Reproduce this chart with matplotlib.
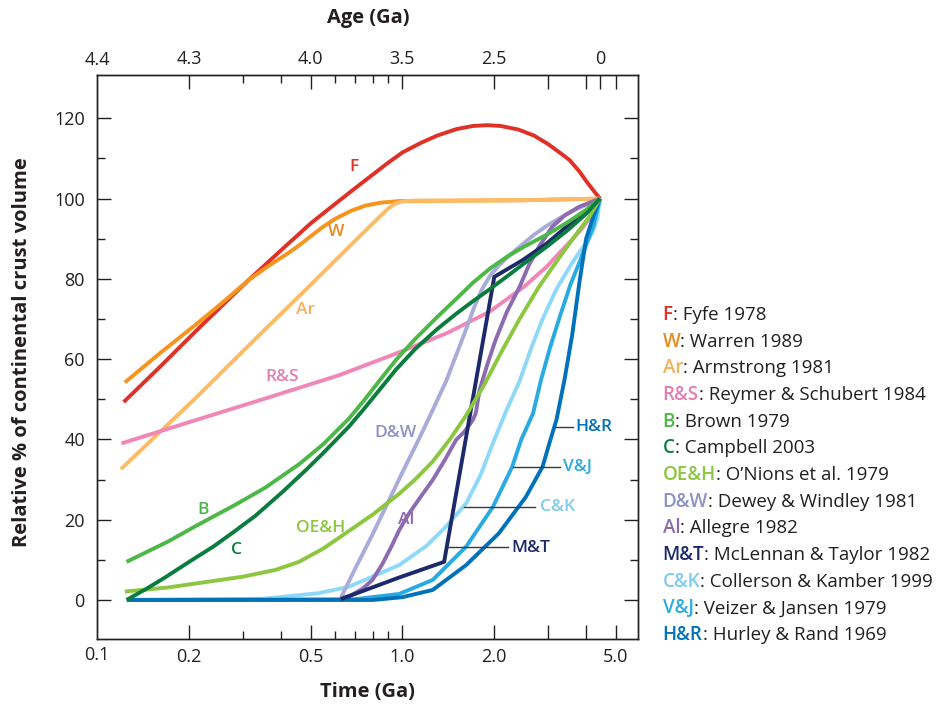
import matplotlib
matplotlib.use('Agg')
import matplotlib.pyplot as plt
from matplotlib.ticker import FixedLocator, FixedFormatter, NullFormatter

plt.rcParams['font.family'] = ['Open Sans', 'DejaVu Sans']

# ---------------- data (time in Ga, relative % of crust volume) ----------------
F_t = [0.122, 0.16, 0.215, 0.313, 0.42, 0.5, 0.6, 0.7, 0.8, 0.9, 1.0, 1.15, 1.3, 1.5, 1.7, 1.9,
       2.1, 2.4, 2.7, 3.0, 3.3, 3.53, 3.8, 4.0, 4.2, 4.44]
F_v = [49.3, 58.0, 67.7, 79.7, 88.6, 93.8, 98.6, 102.6, 106.0, 109.0, 111.5, 113.9, 115.7, 117.3,
       118.1, 118.3, 118.1, 117.2, 115.7, 113.6, 111.3, 109.6, 106.8, 104.4, 102.3, 100]

W_t = [0.1231, 0.16, 0.215, 0.26, 0.313, 0.37, 0.42, 0.4577, 0.5, 0.55, 0.6, 0.68, 0.76, 0.85,
       0.977, 1.5, 2.5, 4.44]
W_v = [54.2, 61.4, 69.2, 74.4, 79.7, 83.6, 86.3, 88.3, 90.6, 93.0, 94.9, 97.0, 98.3, 99.0,
       99.4, 99.5, 99.6, 100]

Ar_t = [0.1195, 0.2093, 0.35, 0.5, 0.7, 0.85, 0.9, 0.95, 1.0, 1.1, 1.5, 2.5, 4.44]
Ar_v = [32.6, 50.2, 67.0, 78.5, 89.5, 95.8, 97.6, 98.8, 99.3, 99.5, 99.5, 99.6, 100]

RS_t = [0.120, 0.2, 0.3555, 0.62, 0.976, 1.4, 1.928, 2.5, 2.966, 3.3, 3.6, 3.9, 4.22, 4.44]
RS_v = [39.0, 44.3, 50.2, 56.0, 61.7, 66.5, 71.8, 78.0, 83.0, 86.8, 89.8, 92.8, 96.3, 100]

B_t = [0.1247, 0.17, 0.2146, 0.28, 0.3555, 0.458, 0.55, 0.668, 0.75, 0.84, 0.95, 1.1, 1.3, 1.5,
       1.7, 1.93, 2.2, 2.5, 2.97, 3.46, 4.0, 4.44]
B_v = [9.5, 14.5, 18.8, 23.5, 28.0, 33.8, 38.8, 45.2, 49.8, 54.6, 59.7, 65.0, 70.5, 75.0,
       79.0, 82.5, 85.5, 88.0, 91.0, 94.0, 97.2, 100]

C_t = [0.1247, 0.145, 0.1667, 0.2, 0.24, 0.276, 0.33, 0.403, 0.48, 0.55, 0.668, 0.75, 0.84,
       0.95, 1.1, 1.3, 1.5, 1.7, 1.93, 2.2, 2.5, 2.97, 3.5, 4.0, 4.44]
C_v = [0.0, 2.8, 5.6, 9.5, 13.3, 16.6, 21.0, 26.8, 32.2, 36.6, 43.2, 47.7, 52.3, 57.3, 62.5,
       67.5, 71.3, 74.4, 77.4, 80.6, 83.8, 88.0, 92.3, 96.2, 100]

OEH_t = [0.1231, 0.17, 0.2146, 0.3, 0.384, 0.458, 0.55, 0.668, 0.8, 0.977, 1.1, 1.257, 1.43,
         1.618, 1.85, 2.1, 2.42, 2.8, 3.28, 3.7, 4.1, 4.44]
OEH_v = [2.1, 3.1, 4.2, 5.8, 7.5, 9.5, 12.8, 17.2, 21.3, 26.5, 30.0, 34.5, 40.0, 46.0, 53.5,
         61.5, 70.0, 78.0, 85.5, 91.0, 95.5, 100]

DW_t = [0.628, 0.7, 0.8, 0.882, 1.0, 1.136, 1.26, 1.39, 1.5, 1.618, 1.72, 1.82, 1.93, 2.05, 2.2,
        2.42, 2.7, 2.97, 3.3, 3.7, 4.1, 4.44]
DW_v = [0.5, 7.8, 16.5, 23.2, 31.8, 40.3, 47.5, 54.5, 61.0, 67.5, 73.0, 77.3, 80.6, 83.0, 85.3,
        88.0, 91.0, 93.2, 95.3, 97.3, 98.8, 100]

Al_t = [0.628, 0.68, 0.74, 0.798, 0.86, 0.92, 0.976, 1.05, 1.15, 1.257, 1.38, 1.5, 1.6, 1.7,
        1.74, 1.79, 1.9, 2.02, 2.2, 2.42, 2.6, 2.8, 3.1, 3.4, 3.8, 4.44]
Al_v = [0.3, 1.2, 2.8, 5.0, 9.0, 13.3, 17.4, 21.5, 25.8, 29.9, 35.0, 39.9, 42.0, 44.8, 46.6,
        52.3, 58.8, 64.8, 71.8, 78.0, 83.5, 88.0, 93.0, 95.8, 98.0, 100]

MT_t = [0.628, 0.976, 1.37, 2.0, 2.48, 2.97, 3.45, 4.22, 4.44]
MT_v = [0.2, 5.6, 9.5, 80.5, 84.7, 88.8, 93.0, 98.4, 100]

CK_t = [0.125, 0.35, 0.532, 0.668, 0.976, 1.2, 1.39, 1.618, 1.8, 2.0, 2.2, 2.42, 2.65, 2.88,
        3.2, 3.6, 3.83, 4.05, 4.22, 4.35, 4.44]
CK_v = [0.0, 0.3, 1.7, 3.3, 8.7, 13.5, 18.3, 24.1, 31.0, 39.9, 47.5, 54.5, 63.0, 70.0, 77.5,
        84.0, 87.0, 89.5, 92.0, 95.0, 100]

VJ_t = [0.125, 0.7, 0.976, 1.257, 1.618, 1.98, 2.29, 2.45, 2.68, 2.85, 3.05, 3.28, 3.55, 3.83,
        4.05, 4.22, 4.44]
VJ_v = [0.0, 0.2, 1.5, 5.0, 13.3, 23.2, 33.2, 39.9, 46.5, 55.0, 63.0, 70.6, 78.5, 84.7, 89.5,
        93.0, 100]

HR_t = [0.125, 0.8, 1.0, 1.257, 1.618, 2.07, 2.54, 2.88, 3.03, 3.2, 3.4, 3.6, 3.8, 4.0, 4.22,
        4.44]
HR_v = [0.0, 0.0, 0.7, 2.5, 8.7, 16.6, 25.7, 33.2, 39.0, 45.0, 55.0, 66.0, 79.0, 90.0, 95.5, 100]

# label text, legend names, colours
keys = ['F', 'W', 'Ar', 'R&S', 'B', 'C', 'OE&H', 'D&W', 'Al', 'M&T', 'C&K', 'V&J', 'H&R']
names = ['Fyfe 1978', 'Warren 1989', 'Armstrong 1981', 'Reymer & Schubert 1984', 'Brown 1979',
         'Campbell 2003', 'O\u2019Nions et al. 1979', 'Dewey & Windley 1981', 'Allegre 1982',
         'McLennan & Taylor 1982', 'Collerson & Kamber 1999', 'Veizer & Jansen 1979',
         'Hurley & Rand 1969']
line_colors = ['#E03127', '#F7941D', '#FDBB63', '#F087B6', '#4DB848', '#0A7D3E', '#8DC63F',
               '#A9ABD8', '#8C6BB1', '#1C2A6B', '#8ED8F8', '#29ABE2', '#0072BC']
text_colors = ['#E03127', '#E8891C', '#F5AE5B', '#E27FAF', '#4DB848', '#0A7D3E', '#8DC63F',
               '#8F91C4', '#8C6BB1', '#1C2A6B', '#7FCBEB', '#29ABE2', '#0072BC']
series = {'F': (F_t, F_v), 'W': (W_t, W_v), 'Ar': (Ar_t, Ar_v), 'R&S': (RS_t, RS_v),
          'B': (B_t, B_v), 'C': (C_t, C_v), 'OE&H': (OEH_t, OEH_v), 'D&W': (DW_t, DW_v),
          'Al': (Al_t, Al_v), 'M&T': (MT_t, MT_v), 'C&K': (CK_t, CK_v), 'V&J': (VJ_t, VJ_v),
          'H&R': (HR_t, HR_v)}
draw_order = ['F', 'W', 'Ar', 'R&S', 'C&K', 'V&J', 'H&R', 'D&W', 'Al', 'M&T', 'OE&H', 'B', 'C']

# in-plot label anchors (time, value) and leader lines
label_pos = {'F': (0.694, 107.9), 'W': (0.604, 91.7), 'Ar': (0.481, 72.2), 'R&S': (0.403, 55.6),
             'B': (0.2228, 22.4), 'C': (0.2868, 12.5), 'OE&H': (0.539, 17.9), 'D&W': (0.952, 41.5),
             'Al': (1.027, 19.9)}
leader_labels = {'M&T': (2.275, 12.9, 1.407, 2.217, 13.3),
                 'C&K': (2.834, 23.2, 1.597, 2.715, 23.2),
                 'V&J': (3.362, 33.05, 2.302, 3.281, 33.05),
                 'H&R': (3.701, 43.2, 3.157, 3.62, 43.2)}

x_major = [0.2, 0.5, 1.0, 2.0, 3.0, 4.0, 5.0]
x_major_lbl = ['0.2', '0.5', '1.0', '2.0', '', '', '5.0']
x_minor = [0.3, 0.4, 0.6, 0.7, 0.8, 0.9]
top_major = [0.2, 0.5, 1.0, 2.0, 3.0, 4.0, 4.45, 5.0]
top_major_lbl = ['4.3', '4.0', '3.5', '2.5', '', '', '0', '']

# ---------------- figure ----------------
W_PX, H_PX = 936, 705
fig = plt.figure(figsize=(W_PX / 100, H_PX / 100), dpi=100)
L, R, T, Bm = 97.3, 638.3, 75.0, 639.3
ax = fig.add_axes([L / W_PX, 1 - Bm / H_PX, (R - L) / W_PX, (Bm - T) / H_PX])
ax.set_xscale('log')
ax.set_xlim(0.1, 5.93)
ax.set_ylim(-9.8, 130.8)

ink = '#231F20'
for s in ax.spines.values():
    s.set_linewidth(1.0)
    s.set_color(ink)

for k in draw_order:
    i = keys.index(k)
    t, v = series[k]
    ax.plot(t, v, color=line_colors[i], lw=2.8, solid_joinstyle='round',
            solid_capstyle='butt', zorder=3)

lab_fs = 12.5
for k, (tx, ty) in label_pos.items():
    i = keys.index(k)
    ax.text(tx, ty, k, color=text_colors[i], fontsize=lab_fs, fontweight='semibold',
            ha='center', va='center', zorder=5)
for k, (tx, ty, l0, l1, ly) in leader_labels.items():
    i = keys.index(k)
    ax.plot([l0, l1], [ly, ly], color='#3A3A3A', lw=1.0, zorder=4)
    ax.text(tx, ty, k, color=text_colors[i], fontsize=lab_fs, fontweight='semibold',
            ha='left', va='center', zorder=5)

# bottom axis ticks
ax.xaxis.set_major_locator(FixedLocator(x_major))
ax.xaxis.set_major_formatter(FixedFormatter(x_major_lbl))
ax.xaxis.set_minor_locator(FixedLocator(x_minor))
ax.xaxis.set_minor_formatter(NullFormatter())
ax.set_yticks([0, 20, 40, 60, 80, 100, 120])
ax.set_yticks([10, 30, 50, 70, 90, 110], minor=True)
ax.tick_params(axis='both', which='major', direction='in', length=10, width=1.0,
               color=ink, labelsize=13, labelcolor=ink, right=True)
ax.tick_params(axis='both', which='minor', direction='in', length=6, width=1.0,
               color=ink, right=True)
ax.tick_params(axis='x', which='major', pad=6)
ax.tick_params(axis='y', which='major', pad=9)
# the 0.1 label sits at the left edge
ax.text(0.1, -0.011, '0.1', transform=ax.get_xaxis_transform(), ha='center', va='top',
        fontsize=13, color=ink)

# top axis (age)
ax2 = ax.twiny()
ax2.set_xscale('log')
ax2.set_xlim(ax.get_xlim())
ax2.xaxis.set_major_locator(FixedLocator(top_major))
ax2.xaxis.set_major_formatter(FixedFormatter(top_major_lbl))
ax2.xaxis.set_minor_locator(FixedLocator(x_minor))
ax2.xaxis.set_minor_formatter(NullFormatter())
ax2.tick_params(axis='x', which='major', direction='in', length=10, width=1.0, color=ink,
                labelsize=13, labelcolor=ink, pad=5)
ax2.tick_params(axis='x', which='minor', direction='in', length=6, width=1.0, color=ink)
for s in ax2.spines.values():
    s.set_linewidth(1.0)
    s.set_color(ink)
ax2.text(0.1, 1.011, '4.4', transform=ax2.get_xaxis_transform(), ha='center', va='bottom',
         fontsize=13, color=ink)

# axis titles
fig.text(367.8 / W_PX, 1 - 18 / H_PX, 'Age (Ga)', ha='center', va='center', fontsize=14.5,
         fontweight='bold', color=ink)
fig.text(367.8 / W_PX, 1 - 692 / H_PX, 'Time (Ga)', ha='center', va='center', fontsize=14.5,
         fontweight='bold', color=ink)
fig.text(22 / W_PX, 1 - 352 / H_PX, 'Relative % of continental crust volume', rotation=90,
         ha='center', va='center', fontsize=14.5, fontweight='bold', color=ink)

# legend (coloured abbreviation + name)
fig.canvas.draw()
renderer = fig.canvas.get_renderer()
leg_x = 662.7
for i, k in enumerate(keys):
    y = 315 + i * 26.67
    t1 = fig.text(leg_x / W_PX, 1 - y / H_PX, k, color=text_colors[i], fontsize=13.5,
                  fontweight='semibold', ha='left', va='center')
    bb = t1.get_window_extent(renderer)
    fig.text(bb.x1 / W_PX, 1 - y / H_PX, ': ' + names[i], color=ink, fontsize=13.5,
             ha='left', va='center')

fig.savefig('out.png', dpi=100)
